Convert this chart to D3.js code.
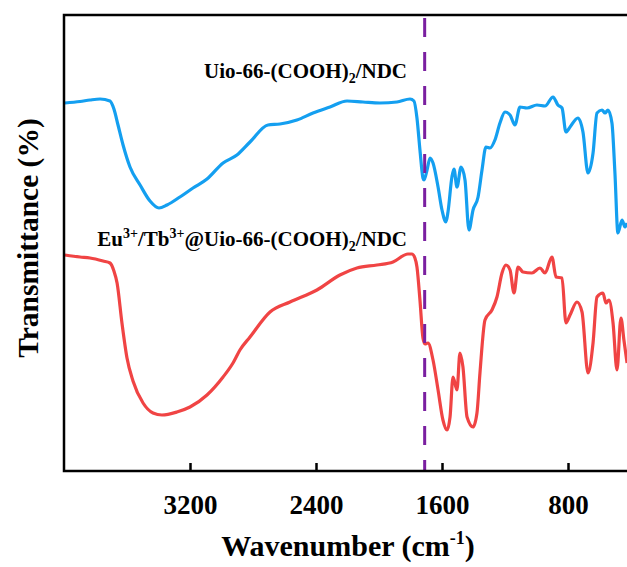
<!DOCTYPE html>
<html>
<head>
<meta charset="utf-8">
<script src="https://cdn.jsdelivr.net/npm/d3@7"></script>
<style>
  body { margin: 0; background: #fff; }
  text { font-family: "Liberation Serif", "Times New Roman", serif; font-weight: bold; }
</style>
</head>
<body>
<div id="viz"></div>
<script>
// dimensions of the svg and the plot box
const width = 627
const height = 567
const margin = {left: 64, top: 15, right: -4, bottom: 96}

// wavenumbers (cm-1) and transmittance (a.u.)
const blueWavenumber = [3994, 3898, 3835, 3771, 3708, 3683, 3657, 3625, 3581, 3517, 3454, 3397, 3346, 3264, 3181, 3092, 2990, 2902, 2819, 2705, 2629, 2521, 2419, 2311, 2203, 2102, 1994, 1886, 1803, 1778, 1759, 1740, 1721, 1714, 1695, 1676, 1657, 1625, 1600, 1575, 1562, 1537, 1524, 1505, 1479, 1454, 1429, 1403, 1371, 1346, 1321, 1295, 1264, 1232, 1200, 1168, 1137, 1105, 1060, 997, 946, 895, 864, 838, 813, 787, 737, 705, 673, 641, 616, 584, 565, 546, 521, 502, 483, 457, 438, 425]
const blueTransmittance = [368, 369.5, 371, 372, 370, 362, 346, 326, 304, 286, 270, 263, 266, 274, 283, 292, 308, 316, 329, 346, 347, 351, 358, 364, 370, 369, 368, 369, 372, 370, 353, 321, 293, 291, 301, 313, 308, 284, 261, 249, 259, 294, 302, 284, 304, 291, 241, 261, 274, 301, 324, 323, 331, 348, 359, 356, 346, 364, 363, 366, 365, 374, 366, 363, 339, 344, 353, 339, 298, 318, 358, 361, 358, 361, 348, 298, 238, 251, 244, 248]

const redWavenumber = [3994, 3898, 3835, 3752, 3708, 3683, 3663, 3632, 3600, 3562, 3498, 3435, 3378, 3283, 3200, 3092, 2990, 2927, 2883, 2819, 2692, 2565, 2394, 2248, 2140, 2013, 1911, 1816, 1791, 1772, 1759, 1740, 1721, 1708, 1689, 1657, 1625, 1594, 1568, 1549, 1530, 1505, 1486, 1467, 1441, 1403, 1378, 1359, 1327, 1283, 1251, 1219, 1194, 1168, 1143, 1117, 1086, 1029, 978, 946, 902, 876, 838, 813, 787, 743, 711, 673, 641, 616, 578, 559, 540, 514, 489, 464, 445, 425]
const redTransmittance = [216, 214, 213, 210, 208, 200, 188, 148, 113, 90, 68, 58, 56, 59, 64, 76, 94, 108, 121, 134, 159, 169, 181, 196, 203, 206, 209, 217, 217, 213, 204, 171, 133, 127, 128, 111, 81, 51, 41, 54, 94, 81, 118, 104, 54, 44, 58, 98, 151, 161, 174, 198, 206, 201, 178, 204, 199, 198, 203, 198, 214, 194, 193, 148, 156, 169, 159, 98, 128, 174, 178, 168, 171, 148, 101, 153, 131, 108]

// axis ticks and the marked band
const xTicks = [3200, 2400, 1600, 800]
const markWavenumber = 1710

// dimensions of the plot box
const g_width = width - margin.left - margin.right;
const g_height = height - margin.top - margin.bottom;

var svg = d3.select("#viz")
        .append("svg")
        .attr("width", width)
        .attr("height", height)

// x runs from high to low wavenumber
const x = d3.scaleLinear()
            .domain([4000, 400])
            .range([margin.left, margin.left + g_width]);

const y = d3.scaleLinear()
            .domain([0, 456])
            .range([margin.top + g_height, margin.top]);

// clip the curves to the plot box
svg.append("clipPath")
    .attr("id", "box")
    .append("rect")
    .attr("x", margin.left)
    .attr("y", margin.top)
    .attr("width", g_width)
    .attr("height", g_height);

const line = d3.line()
    .x(function(d) { return x(d[0]) })
    .y(function(d) { return y(d[1]) })
    .curve(d3.curveMonotoneX);

// blue curve
svg.append("path")
    .datum(d3.zip(blueWavenumber, blueTransmittance))
    .attr("clip-path", "url(#box)")
    .attr("fill", "none")
    .attr("stroke", "#149ff0")
    .attr("stroke-width", 3.2)
    .attr("stroke-linejoin", "round")
    .attr("d", line);

// red curve
svg.append("path")
    .datum(d3.zip(redWavenumber, redTransmittance))
    .attr("clip-path", "url(#box)")
    .attr("fill", "none")
    .attr("stroke", "#f04444")
    .attr("stroke-width", 3.2)
    .attr("stroke-linejoin", "round")
    .attr("d", line);

// dashed marker line
svg.append("line")
    .attr("x1", x(markWavenumber))
    .attr("x2", x(markWavenumber))
    .attr("y1", margin.top + 3)
    .attr("y2", margin.top + g_height)
    .attr("stroke", "#7a1fa0")
    .attr("stroke-width", 3)
    .attr("stroke-dasharray", "19,15");

// x axis with inward ticks
const xAxis = svg.append("g")
    .attr("transform", "translate(0," + (margin.top + g_height) + ")")
    .call(d3.axisBottom(x).tickValues(xTicks).tickSize(-8).tickPadding(24).tickFormat(d3.format("d")));

xAxis.select(".domain").remove();
xAxis.selectAll("line").attr("stroke", "black").attr("stroke-width", 2.5);
xAxis.selectAll("text")
    .attr("fill", "black")
    .style("font-size", "27px")
    .style("font-family", "'Liberation Serif', serif")
    .style("font-weight", "bold");

// frame
svg.append("rect")
    .attr("x", margin.left)
    .attr("y", margin.top)
    .attr("width", g_width)
    .attr("height", g_height)
    .attr("fill", "none")
    .attr("stroke", "black")
    .attr("stroke-width", 2.5);

// x label
const xl = svg.append("text")
    .attr("x", 348)
    .attr("y", 556)
    .attr("text-anchor", "middle")
    .attr("font-size", 30);
xl.append("tspan").text("Wavenumber (cm");
xl.append("tspan").attr("font-size", 18).attr("dy", -12).text("-1");
xl.append("tspan").attr("dy", 12).text(")");

// y label
svg.append("text")
    .attr("transform", "translate(38," + 238 + ")rotate(-90)")
    .attr("text-anchor", "middle")
    .attr("font-size", 29.5)
    .text("Transmittance (%)");

// curve labels
const t1 = svg.append("text")
    .attr("x", 407)
    .attr("y", 78)
    .attr("text-anchor", "end")
    .attr("font-size", 21);
t1.append("tspan").text("Uio-66-(COOH)");
t1.append("tspan").attr("font-size", 14).attr("dy", 5).text("2");
t1.append("tspan").attr("dy", -5).text("/NDC");

const t2 = svg.append("text")
    .attr("x", 407)
    .attr("y", 246)
    .attr("text-anchor", "end")
    .attr("font-size", 21);
t2.append("tspan").text("Eu");
t2.append("tspan").attr("font-size", 14).attr("dy", -8).text("3+");
t2.append("tspan").attr("dy", 8).text("/Tb");
t2.append("tspan").attr("font-size", 14).attr("dy", -8).text("3+");
t2.append("tspan").attr("dy", 8).text("@Uio-66-(COOH)");
t2.append("tspan").attr("font-size", 14).attr("dy", 5).text("2");
t2.append("tspan").attr("dy", -5).text("/NDC");
</script>
</body>
</html>
